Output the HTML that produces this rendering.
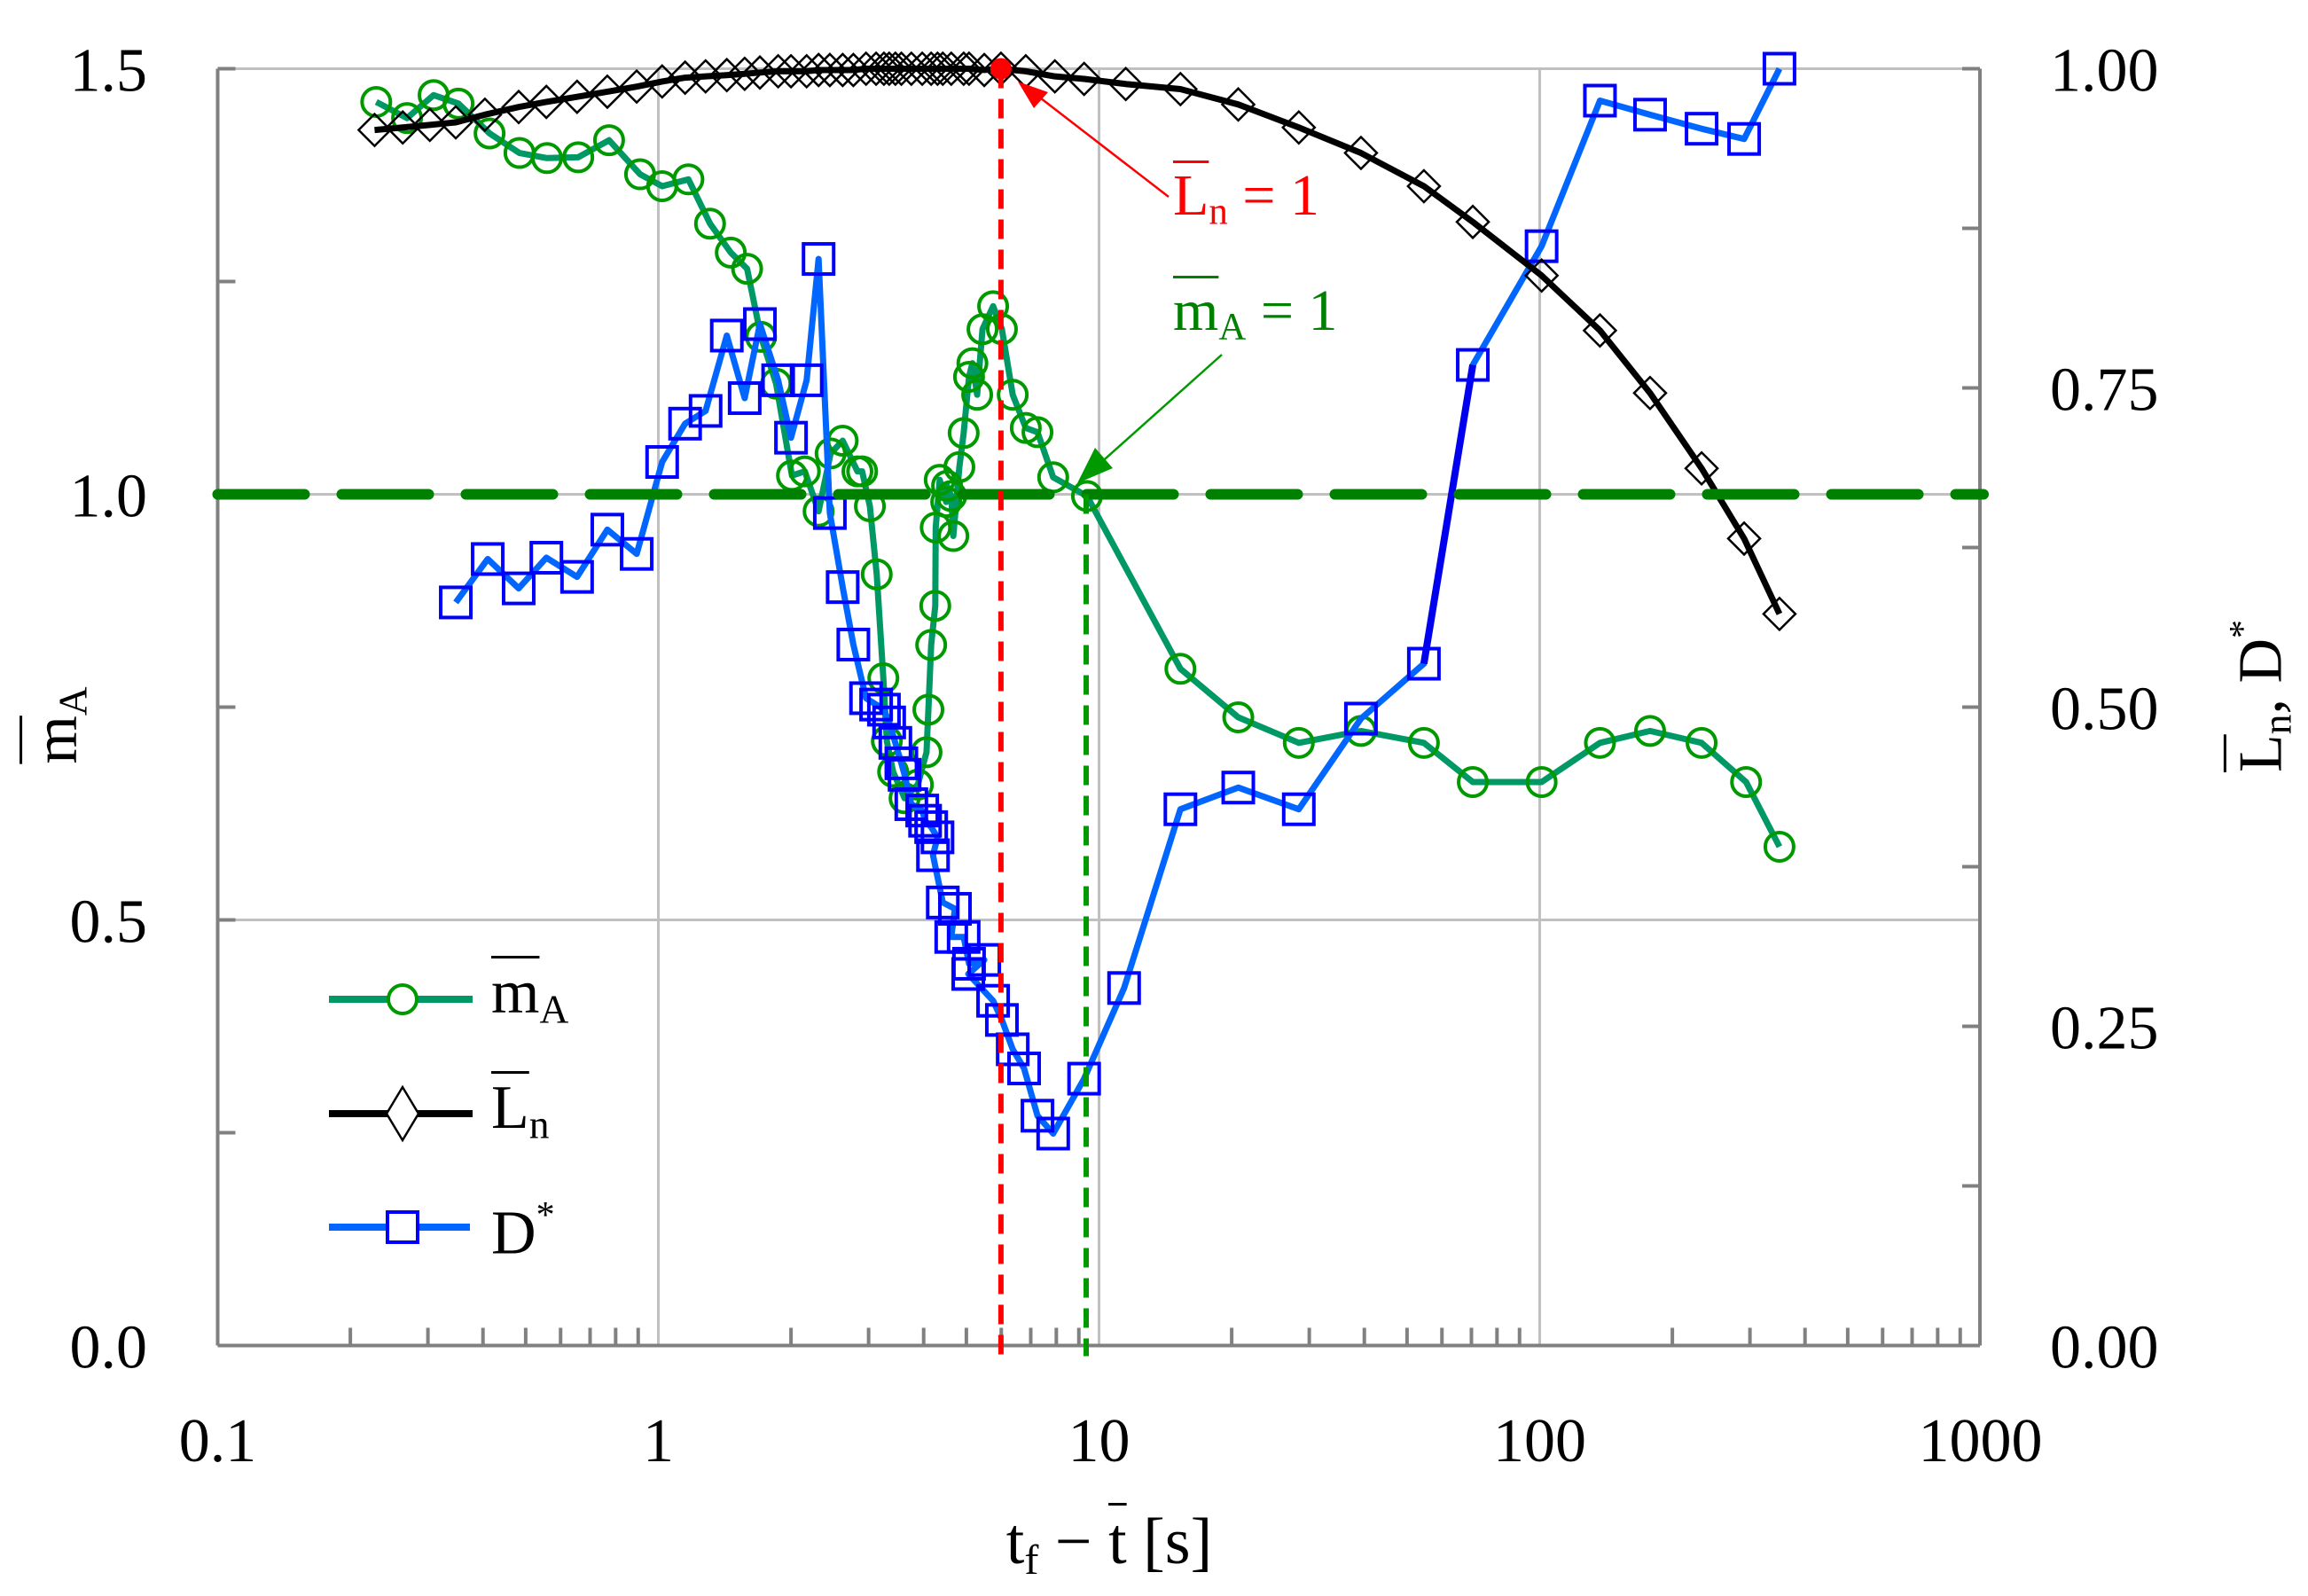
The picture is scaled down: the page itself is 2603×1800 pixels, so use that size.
<!DOCTYPE html>
<html><head><meta charset="utf-8">
<style>
html,body{margin:0;padding:0;background:#fff;}
#wrap{position:relative;width:2603px;height:1800px;overflow:hidden;font-family:"Liberation Serif",serif;color:#000;}
.lbl{position:absolute;font-size:70px;line-height:1;white-space:nowrap;}
.ov{text-decoration:overline;text-decoration-thickness:3px;}
sub{font-size:0.65em;vertical-align:-0.25em;}
sup{font-size:0.6em;vertical-align:0.7em;}
</style></head>
<body>
<div id="wrap">
<svg id="svg" width="2603" height="1800" style="position:absolute;left:0;top:0"></svg>

<div class="lbl" style="left:1323px;top:188px;color:#ff0000;font-size:66px"><span class="ov">L</span><sub>n</sub> = 1</div>
<div class="lbl" style="left:1323px;top:318px;color:#008000;font-size:66px"><span class="ov">m</span><sub>A</sub> = 1</div>

<div class="lbl" style="left:554px;top:1085px"><span class="ov">m</span><sub>A</sub></div>
<div class="lbl" style="left:554px;top:1215px"><span class="ov">L</span><sub>n</sub></div>
<div class="lbl" style="left:554px;top:1350px">D<sup>*</sup></div>

<div class="lbl" style="left:1251px;top:1702px;font-size:74px;transform:translateX(-50%)">t<sub>f</sub> − <span class="ov">t</span> [s]</div>
<div class="lbl" style="left:67px;top:818px;transform:translate(-50%,-50%) rotate(-90deg)"><span class="ov">m</span><sub>A</sub></div>
<div class="lbl" style="left:2550px;top:785px;transform:translate(-50%,-50%) rotate(-90deg)"><span class="ov">L</span><sub>n</sub>, D<sup>*</sup></div>
</div>
<script>
const maT=[0.229,0.269,0.309,0.352,0.414,0.484,0.559,0.658,0.773,0.909,1.02,1.17,1.31,1.46,1.59,1.71,1.85,2.01,2.15,2.31,2.46,2.62,2.83,2.90,3.02,3.13,3.24,3.30,3.41,3.62,3.88,4.06,4.10,4.16,4.25,4.26,4.35,4.50,4.52,4.62,4.67,4.82,4.93,5.07,5.16,5.29,5.44,5.75,6.02,6.37,6.82,7.25,7.87,9.39,15.3,20.7,28.4,39.3,54.6,70.5,101,137,178,233,294,350];
const maV=[1.461,1.442,1.469,1.459,1.424,1.401,1.395,1.396,1.416,1.376,1.362,1.370,1.318,1.284,1.265,1.185,1.130,1.022,1.027,0.980,1.048,1.063,1.027,1.027,0.986,0.906,0.784,0.710,0.674,0.643,0.659,0.697,0.747,0.823,0.869,0.961,1.017,0.991,1.010,0.998,0.951,1.032,1.072,1.138,1.154,1.117,1.194,1.221,1.194,1.117,1.078,1.073,1.020,0.998,0.795,0.738,0.708,0.722,0.708,0.662,0.662,0.708,0.722,0.708,0.662,0.586];
const dT=[0.347,0.410,0.482,0.557,0.654,0.766,0.893,1.02,1.15,1.28,1.43,1.57,1.70,1.87,2.00,2.17,2.31,2.45,2.62,2.77,2.96,3.12,3.25,3.34,3.45,3.56,3.62,3.75,3.97,4.03,4.16,4.30,4.20,4.42,4.71,4.62,4.93,5.07,5.49,5.05,5.75,6.02,6.37,6.76,7.25,7.87,9.25,11.4,15.3,20.7,28.4,39.3,54.6,70.5,101,137,178,233,291,350];
const dV=[0.582,0.616,0.593,0.617,0.602,0.639,0.620,0.692,0.722,0.732,0.791,0.742,0.800,0.756,0.711,0.756,0.851,0.652,0.594,0.549,0.507,0.502,0.498,0.488,0.472,0.456,0.447,0.424,0.419,0.411,0.406,0.398,0.384,0.347,0.342,0.320,0.320,0.299,0.302,0.291,0.270,0.255,0.232,0.217,0.180,0.166,0.209,0.280,0.420,0.437,0.420,0.491,0.534,0.768,0.861,0.975,0.964,0.953,0.945,1.000];
const lnT=[0.227,0.263,0.303,0.347,0.404,0.482,0.557,0.654,0.766,0.893,1.02,1.15,1.28,1.43,1.57,1.70,1.87,2.00,2.17,2.31,2.45,2.62,2.77,2.96,3.12,3.25,3.34,3.45,3.56,3.75,3.97,4.16,4.30,4.42,4.62,4.93,5.07,5.49,5.99,6.82,7.94,9.25,11.5,15.3,20.7,28.4,39.3,54.6,70.5,101,137,178,233,291,350];
const lnV=[0.952,0.954,0.956,0.958,0.964,0.970,0.974,0.978,0.982,0.986,0.990,0.993,0.994,0.995,0.996,0.997,0.998,0.998,0.998,0.999,0.999,0.999,0.999,1.0,1.0,1.0,1.0,1.0,1.0,1.0,1.0,1.0,1.0,1.0,1.0,1.0,1.0,0.999,1.0,0.998,0.994,0.992,0.988,0.984,0.972,0.954,0.934,0.908,0.880,0.838,0.795,0.746,0.687,0.632,0.573];
const leftTicks=["0.0","0.5","1.0","1.5"];
const leftTickVals=[0,0.5,1.0,1.5];
const rightTicks=["0.00","0.25","0.50","0.75","1.00"];
const rightTickVals=[0,0.25,0.5,0.75,1.0];
const xTicks=["0.1","1","10","100","1000"];
const xTickVals=[0.1,1,10,100,1000];
const lnOneT=5.99, maOneT=9.35;

const X0=245.5,X1=2233,DEC=497,Y0=1517.5,YTOP=77.5;
const X=t=>X0+(Math.log10(t)+1)*DEC;
const YL=m=>Y0-m*960;
const YR=v=>Y0-v*1440;
const svg=document.getElementById('svg');
const NS='http://www.w3.org/2000/svg';
function mk(tag,attrs,parent){const e=document.createElementNS(NS,tag);for(const k in attrs)e.setAttribute(k,attrs[k]);(parent||svg).appendChild(e);return e;}

const grid=mk('g',{});


xTickVals.forEach(v=>{mk('line',{x1:X(v),x2:X(v),y1:YTOP,y2:Y0,stroke:'#c0c0c0','stroke-width':3},grid);});
leftTickVals.forEach(v=>{mk('line',{x1:X0,x2:X1,y1:YL(v),y2:YL(v),stroke:'#c0c0c0','stroke-width':3},grid);});
const fr=mk('g',{stroke:'#808080','stroke-width':4,fill:'none'});


mk('line',{x1:X0,x2:X0,y1:YTOP,y2:Y0},fr);
mk('line',{x1:X1,x2:X1,y1:YTOP,y2:Y0},fr);
mk('line',{x1:X0,x2:X1,y1:Y0,y2:Y0},fr);
for(let d=0;d<4;d++){for(let k=2;k<=9;k++){const t=Math.pow(10,d-1)*k;mk('line',{x1:X(t),x2:X(t),y1:Y0,y2:Y0-20},fr);}}
for(let v=0;v<=1.5001;v+=0.25){mk('line',{x1:X0,x2:X0+20,y1:YL(v),y2:YL(v)},fr);}
for(let v=0;v<=1.0001;v+=0.125){mk('line',{x1:X1,x2:X1-20,y1:YR(v),y2:YR(v)},fr);}
leftTicks.forEach((s,i)=>{const e=mk('text',{x:166,y:YL(leftTickVals[i])+25,'text-anchor':'end','font-size':70,'font-family':'Liberation Serif, serif'});e.textContent=s;

});
rightTicks.forEach((s,i)=>{const e=mk('text',{x:2312,y:YR(rightTickVals[i])+25,'font-size':70,'font-family':'Liberation Serif, serif'});e.textContent=s;

});
xTicks.forEach((s,i)=>{const e=mk('text',{x:X(xTickVals[i]),y:1648,'text-anchor':'middle','font-size':70,'font-family':'Liberation Serif, serif'});e.textContent=s;

});

function pts(T,V,Y){return T.map((t,i)=>X(t)+','+Y(V[i])).join(' ');}
const gm=mk('g',{});


mk('polyline',{points:pts(maT,maV,YL),fill:'none',stroke:'#009966','stroke-width':7,'stroke-linejoin':'round'},gm);
maT.forEach((t,i)=>{const c=mk('circle',{cx:X(t),cy:YL(maV[i]),r:16,fill:'none',stroke:'#009900','stroke-width':4},gm);

});

const gd=mk('g',{});


mk('polyline',{points:pts(dT,dV,YR),fill:'none',stroke:'#0066ff','stroke-width':7,'stroke-linejoin':'round'},gd);
mk('line',{x1:X(dT[52]),y1:YR(dV[52]),x2:X(dT[53]),y2:YR(dV[53]),stroke:'#0000ee','stroke-width':8},gd);
dT.forEach((t,i)=>{const r=mk('rect',{x:X(t)-17,y:YR(dV[i])-17,width:34,height:34,fill:'none',stroke:'#0000ff','stroke-width':4},gd);

});

const gl=mk('g',{});


mk('polyline',{points:pts(lnT,lnV,YR),fill:'none',stroke:'#000','stroke-width':7,'stroke-linejoin':'round'},gl);
lnT.forEach((t,i)=>{const x=X(t),y=YR(lnV[i]);const p=mk('polygon',{points:`${x-18},${y} ${x},${y-18} ${x+18},${y} ${x},${y+18}`,fill:'none',stroke:'#000','stroke-width':2.5},gl);

});

const h=mk('line',{x1:X0,x2:X1+4,y1:YL(1),y2:YL(1),stroke:'#008000','stroke-width':12,'stroke-dasharray':'98 42','stroke-linecap':'round'});


const rv=mk('line',{x1:X(lnOneT),x2:X(lnOneT),y1:YR(1),y2:Y0+12,stroke:'#ff0000','stroke-width':6,'stroke-dasharray':'22 12'});


const gv=mk('line',{x1:X(maOneT),x2:X(maOneT),y1:YL(1),y2:Y0+12,stroke:'#009900','stroke-width':6,'stroke-dasharray':'22 12'});


const rd=mk('circle',{cx:X(lnOneT),cy:YR(1),r:12,fill:'#ff0000'});


mk('line',{x1:1318,y1:222,x2:1165,y2:104,stroke:'#ff0000','stroke-width':2.5});
mk('polygon',{points:'1148,92 1182,104 1166,122',fill:'#ff0000'});
mk('line',{x1:1378,y1:400,x2:1238,y2:525,stroke:'#009900','stroke-width':2.5});
mk('polygon',{points:'1215,545 1235,505 1255,528',fill:'#009900'});

const lg=mk('g',{});


mk('line',{x1:371,x2:533,y1:1127,y2:1127,stroke:'#009966','stroke-width':8},lg);
mk('circle',{cx:454,cy:1127,r:16,fill:'#fff',stroke:'#009900','stroke-width':4},lg);
mk('line',{x1:371,x2:533,y1:1256,y2:1256,stroke:'#000','stroke-width':8},lg);
mk('polygon',{points:'436,1256 454,1226 472,1256 454,1286',fill:'#fff',stroke:'#000','stroke-width':2.5},lg);
mk('line',{x1:371,x2:530,y1:1384,y2:1384,stroke:'#0066ff','stroke-width':8},lg);
mk('rect',{x:437,y:1367,width:34,height:34,fill:'#fff',stroke:'#0000ff','stroke-width':4},lg);
</script>
</body></html>
